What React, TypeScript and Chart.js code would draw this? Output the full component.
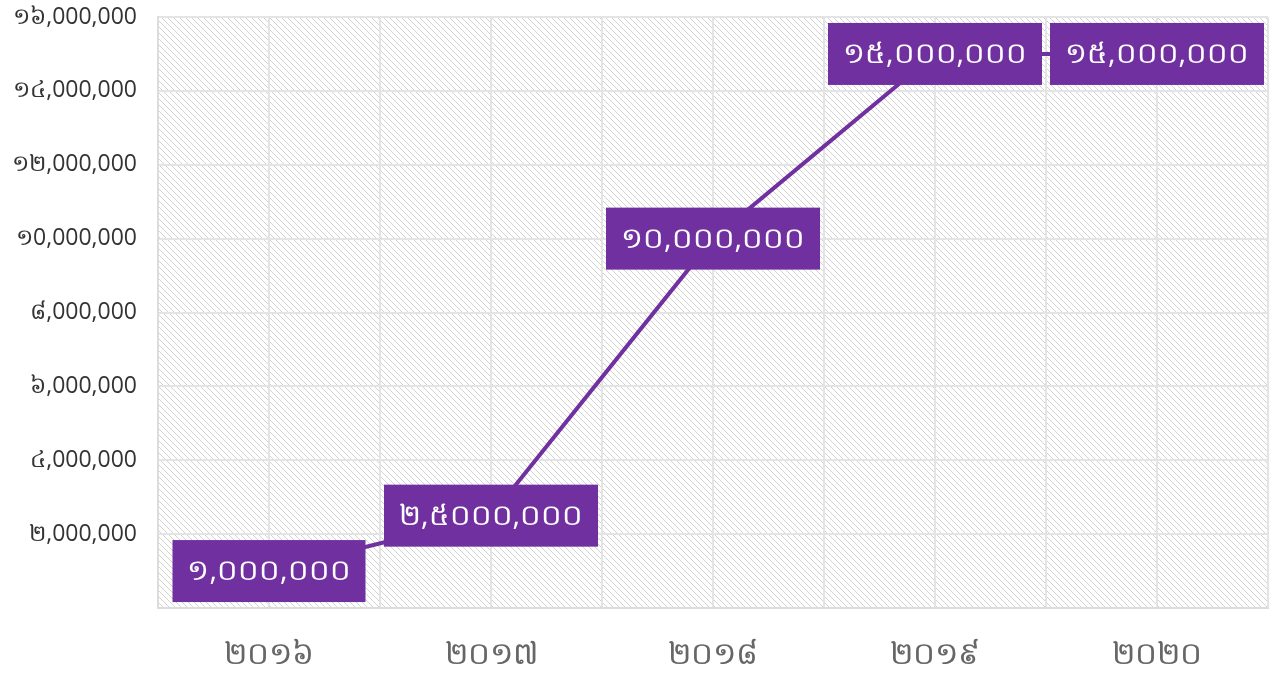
import React, { useEffect, useRef } from "react";
import { Chart, registerables } from "chart.js";

Chart.register(...registerables);

const categories = ["២០១៦", "២០១៧", "២០១៨", "២០១៩", "២០២០"];
const values = [1000000, 2500000, 10000000, 15000000, 15000000];
const dataLabels = ["១,០០០,០០០", "២,៥០០០,០០០", "១០,០០០,០០០", "១៥,០០០,០០០", "១៥,០០០,០០០"];
const yTickLabels = ["", "២,000,000", "៤,000,000", "៦,000,000", "៨,000,000", "១0,000,000", "១២,000,000", "១៤,000,000", "១៦,000,000"];

const PURPLE = "#7030A0";
const FONT = "'Open Sans', 'Noto Sans', sans-serif";

function makePattern(): CanvasPattern | string {
  const c = document.createElement("canvas");
  c.width = 6;
  c.height = 6;
  const g = c.getContext("2d");
  if (!g) return "#fff";
  g.fillStyle = "#ffffff";
  g.fillRect(0, 0, 6, 6);
  g.strokeStyle = "#d2d2d2";
  g.lineWidth = 1;
  g.beginPath();
  g.moveTo(-1, -1);
  g.lineTo(7, 7);
  g.moveTo(-1, 5);
  g.lineTo(1, 7);
  g.moveTo(5, -1);
  g.lineTo(7, 1);
  g.stroke();
  const p = g.createPattern(c, "repeat");
  return p || "#fff";
}

const bgPlugin = {
  id: "bgPattern",
  beforeDraw(chart: any) {
    const { ctx, chartArea } = chart;
    ctx.save();
    ctx.fillStyle = makePattern();
    ctx.fillRect(chartArea.left, chartArea.top, chartArea.right - chartArea.left, chartArea.bottom - chartArea.top);
    ctx.restore();
  },
};

const labelPlugin = {
  id: "boxLabels",
  afterDatasetsDraw(chart: any) {
    const { ctx } = chart;
    const meta = chart.getDatasetMeta(0);
    ctx.save();
    ctx.font = `29px ${FONT}`;
    ctx.textAlign = "center";
    ctx.textBaseline = "middle";
    meta.data.forEach((pt: any, i: number) => {
      const text = dataLabels[i];
      const w = ctx.measureText(text).width + 30;
      const h = 62;
      ctx.fillStyle = PURPLE;
      ctx.fillRect(pt.x - w / 2, pt.y - h / 2, w, h);
      ctx.fillStyle = "#ffffff";
      ctx.fillText(text, pt.x, pt.y + 1);
    });
    ctx.restore();
  },
};

export default function App() {
  const ref = useRef<HTMLCanvasElement>(null);
  useEffect(() => {
    if (!ref.current) return;
    const chart = new Chart(ref.current, {
      type: "line",
      data: {
        datasets: [
          {
            data: values.map((v, i) => ({ x: i, y: v })),
            borderColor: PURPLE,
            borderWidth: 4,
            pointRadius: 0,
            tension: 0,
          },
        ],
      },
      options: {
        animation: false,
        responsive: false,
        maintainAspectRatio: false,
        layout: { padding: { top: 17, right: 3, left: 0, bottom: 0 } },
        plugins: { legend: { display: false }, tooltip: { enabled: false } },
        scales: {
          x: {
            type: "linear",
            min: -0.5,
            max: 4.5,
            afterBuildTicks(scale: any) {
              const t = [];
              for (let v = -0.5; v <= 4.5001; v += 0.5) t.push({ value: Math.round(v * 10) / 10 });
              scale.ticks = t;
            },
            afterFit(scale: any) {
              scale.height = 67;
              scale.paddingLeft = 0;
              scale.paddingRight = 0;
            },
            grid: { color: "#e4e4e4", lineWidth: 2, drawTicks: false },
            border: { color: "#dcdcdc", width: 2 },
            ticks: {
              autoSkip: false,
              maxRotation: 0,
              padding: 29,
              color: "#666666",
              font: { size: 31, family: FONT },
              callback: (v: any) => (Number.isInteger(v) ? categories[v] : ""),
            },
          },
          y: {
            min: 0,
            max: 16000000,
            afterBuildTicks(scale: any) {
              const t = [];
              for (let i = 0; i <= 8; i++) t.push({ value: i * 2000000 });
              scale.ticks = t;
            },
            afterFit(scale: any) {
              scale.width = 158;
              scale.paddingTop = 0;
              scale.paddingBottom = 0;
            },
            grid: { color: "#e4e4e4", lineWidth: 2, drawTicks: false },
            border: { color: "#dcdcdc", width: 2 },
            ticks: {
              padding: 21,
              color: "#333333",
              font: { size: 23, family: FONT },
              callback: (_v: any, i: number) => yTickLabels[i],
            },
          },
        },
      },
      plugins: [bgPlugin, labelPlugin],
    });
    return () => chart.destroy();
  }, []);
  return (
    <div style={{ position: "fixed", left: 0, top: 0, width: 1271, height: 675, background: "#fff" }}>
      <canvas ref={ref} width={1271} height={675} style={{ width: 1271, height: 675 }} />
    </div>
  );
}
